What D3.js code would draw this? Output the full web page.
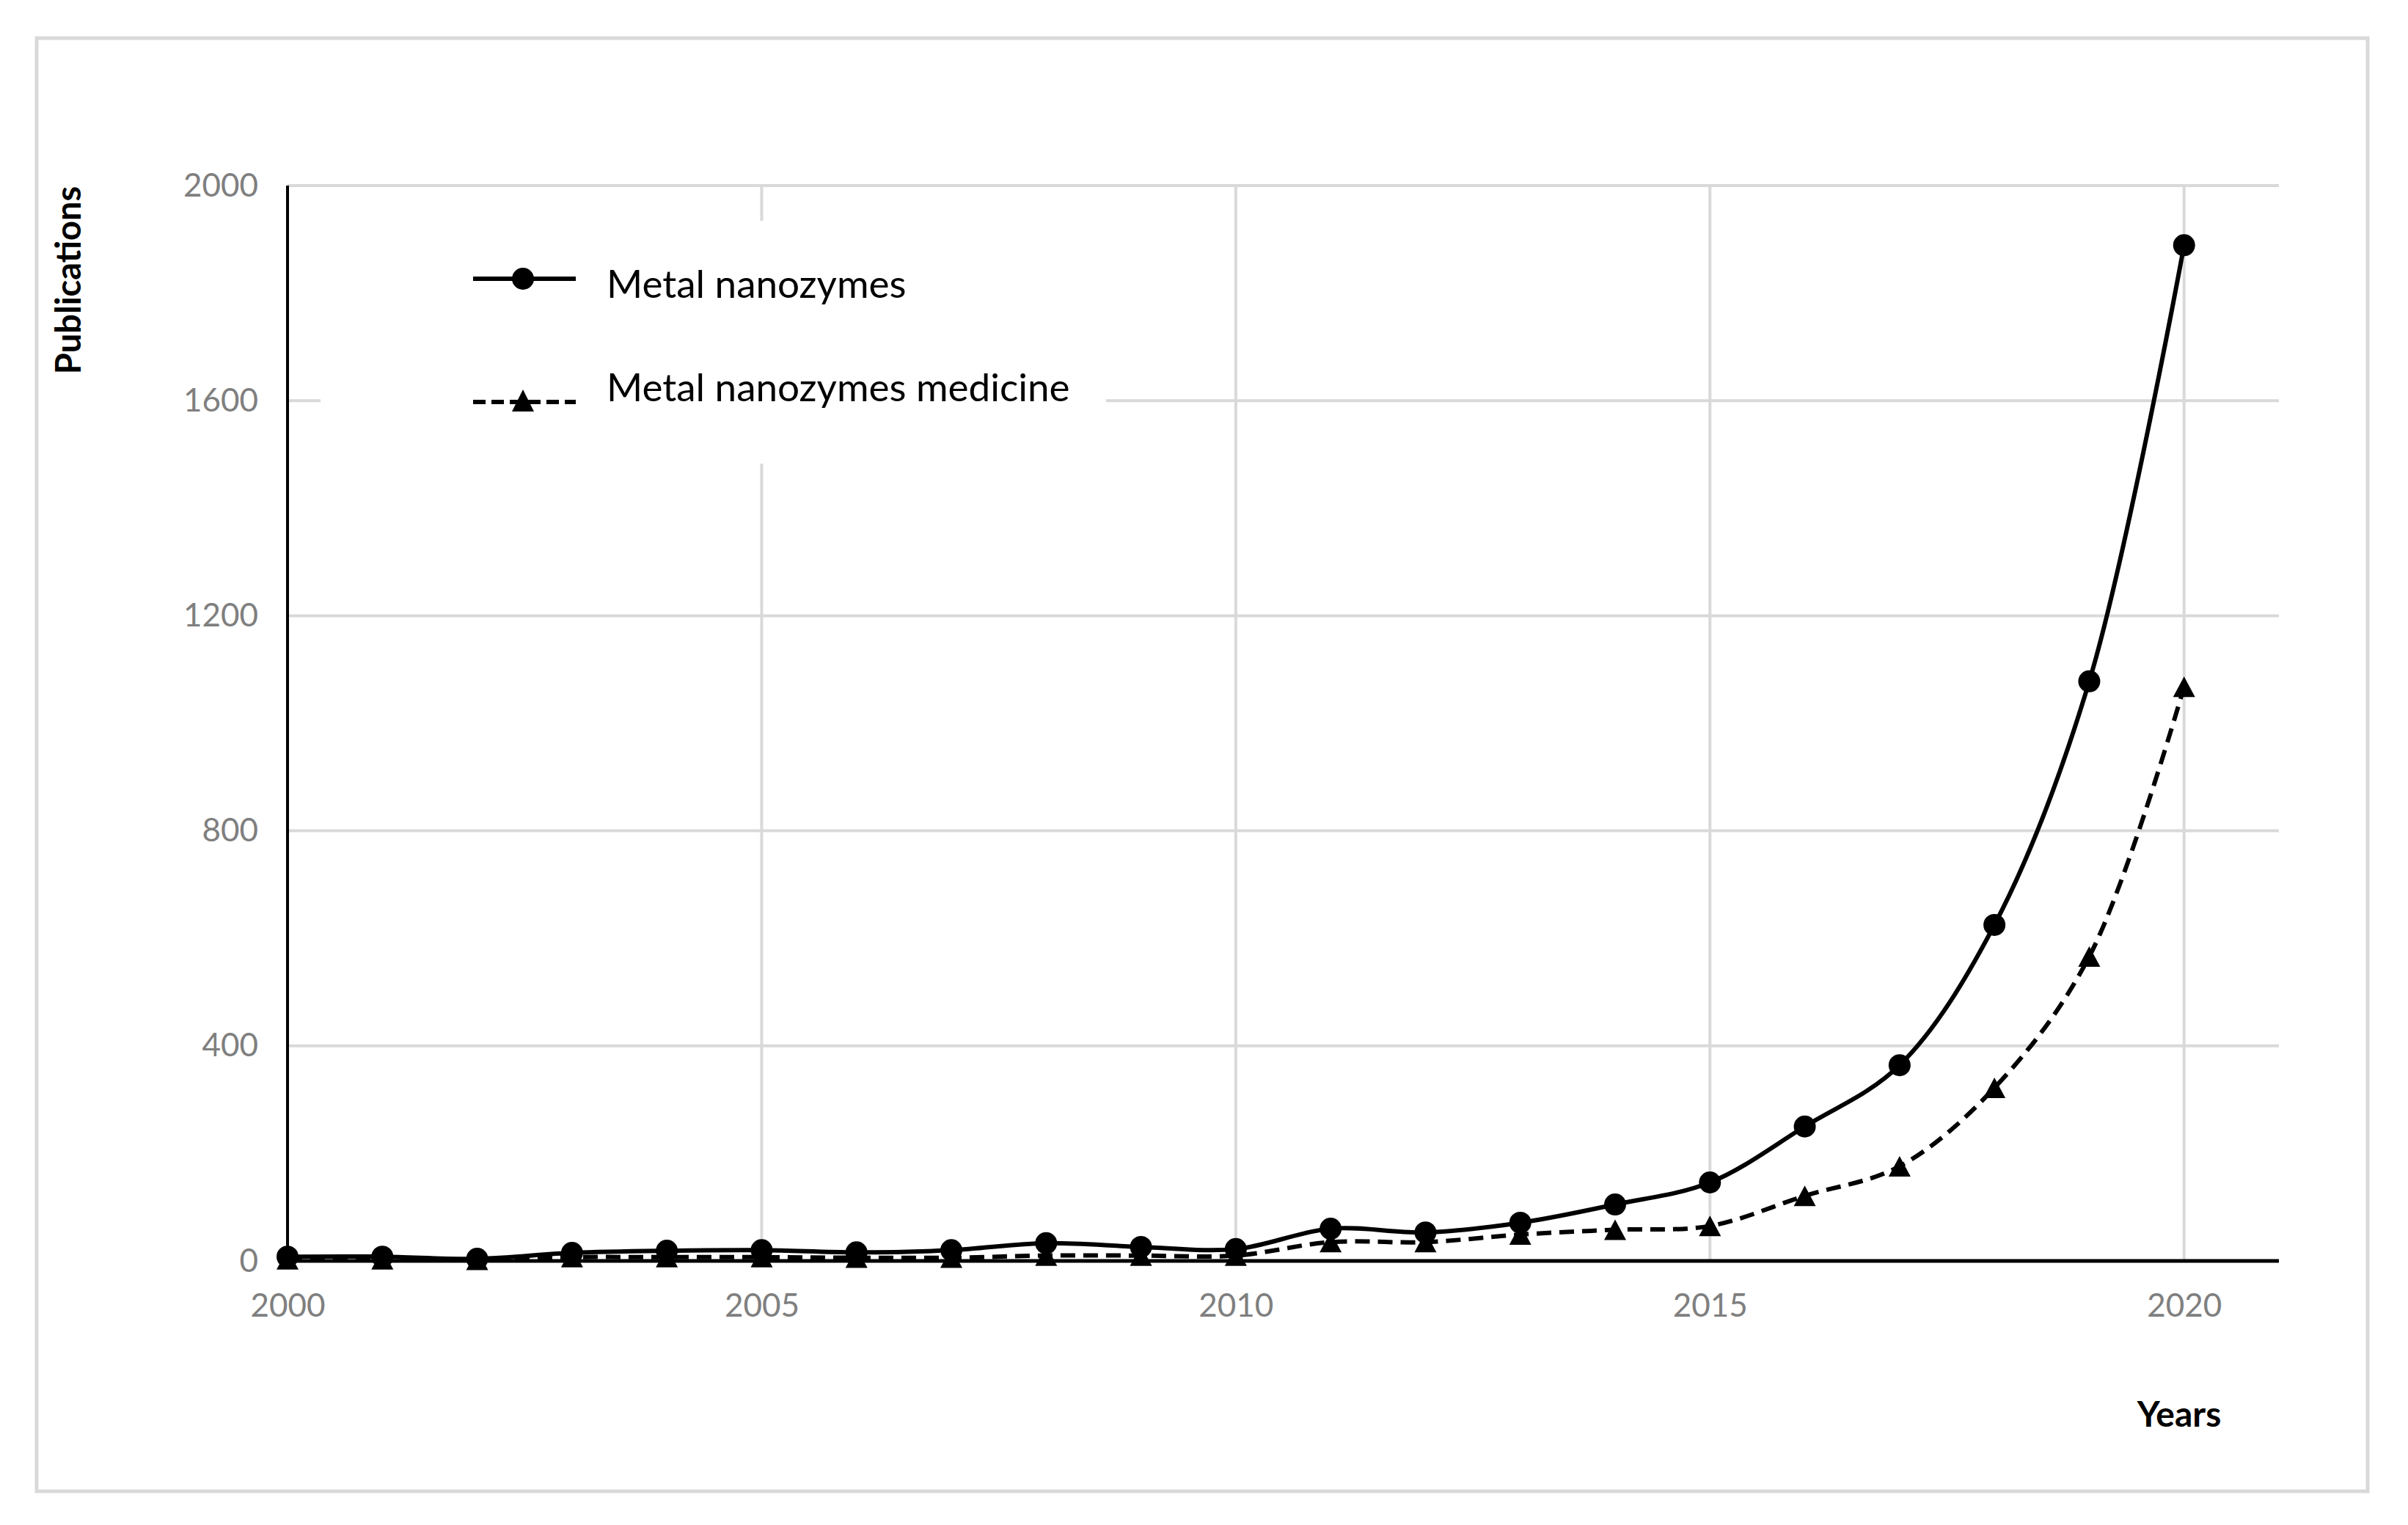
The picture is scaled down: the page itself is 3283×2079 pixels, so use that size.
<!DOCTYPE html>
<html>
<head>
<meta charset="utf-8">
<script src="https://cdn.jsdelivr.net/npm/d3@7"></script>
<style>
  body { margin: 0; background: #fff; }
  svg text { font-family: Lato, "Open Sans", sans-serif; }
</style>
</head>
<body>
<div id="graph"></div>
<script>
// data
var years = [2000, 2001, 2002, 2003, 2004, 2005, 2006, 2007, 2008, 2009, 2010,
             2011, 2012, 2013, 2014, 2015, 2016, 2017, 2018, 2019, 2020];
var metalNanozymes = [8, 8, 4, 15, 19, 20, 16, 20, 33, 26, 22,
                      60, 53, 71, 105, 146, 250, 364, 625, 1078, 1889];
var metalMedicine = [3, 3, 2, 7, 7, 7, 6, 6, 10, 10, 10,
                     35, 35, 49, 58, 65, 121, 176, 322, 566, 1068];
var seriesNames = ["Metal nanozymes", "Metal nanozymes medicine"];
var yTicks = [0, 400, 800, 1200, 1600, 2000];
var xTicks = [2000, 2005, 2010, 2015, 2020];
var xGridYears = [2005, 2010, 2015, 2020];

var svgWidth = 3283;
var svgHeight = 2079;

var plot = {left: 392, right: 3107, top: 253, bottom: 1719};
var gridColor = "#d9d9d9";
var tickColor = "#7f7f7f";

var $svg = d3.select("#graph")
    .append("svg")
    .attr("width", svgWidth)
    .attr("height", svgHeight);

// outer frame
$svg.append("rect")
    .attr("x", 50).attr("y", 52)
    .attr("width", 3178).attr("height", 1981)
    .attr("fill", "#fff")
    .attr("stroke", gridColor)
    .attr("stroke-width", 5);

var x = d3.scaleLinear().domain([2000, 2021]).range([plot.left, plot.right]);
var y = d3.scaleLinear().domain([0, 2000]).range([plot.bottom, plot.top]);

// gridlines
$svg.append("g")
    .selectAll("line.hgrid")
    .data(yTicks.filter(d => d > 0))
    .join("line")
    .attr("x1", plot.left).attr("x2", plot.right)
    .attr("y1", d => y(d)).attr("y2", d => y(d))
    .attr("stroke", gridColor)
    .attr("stroke-width", 4);

$svg.append("g")
    .selectAll("line.vgrid")
    .data(xGridYears)
    .join("line")
    .attr("x1", d => x(d)).attr("x2", d => x(d))
    .attr("y1", plot.top).attr("y2", plot.bottom)
    .attr("stroke", gridColor)
    .attr("stroke-width", 4);

// axes
var yAxis = d3.axisLeft(y).tickValues(yTicks).tickSize(0).tickPadding(40).tickFormat(d3.format("d"));
var gy = $svg.append("g")
    .attr("transform", `translate(${plot.left},0)`)
    .call(yAxis);
gy.select(".domain").remove();
gy.selectAll("text")
    .attr("fill", tickColor)
    .style("font-size", "44px");

var xAxis = d3.axisBottom(x).tickValues(xTicks).tickSize(0).tickPadding(45).tickFormat(d3.format("d"));
var gx = $svg.append("g")
    .attr("transform", `translate(0,${plot.bottom})`)
    .call(xAxis);
gx.select(".domain").remove();
gx.selectAll("text")
    .attr("fill", tickColor)
    .style("font-size", "44px");

$svg.append("line")
    .attr("x1", plot.left).attr("x2", plot.left)
    .attr("y1", plot.top).attr("y2", plot.bottom)
    .attr("stroke", "#000").attr("stroke-width", 4);

// axis titles
$svg.append("text")
    .attr("transform", "translate(110,382) rotate(-90)")
    .attr("text-anchor", "middle")
    .attr("font-weight", "bold")
    .style("font-size", "47px")
    .text("Publications");

$svg.append("text")
    .attr("x", 2971).attr("y", 1945)
    .attr("text-anchor", "middle")
    .attr("font-weight", "bold")
    .style("font-size", "48px")
    .text("Years");

// legend box (white, hides the grid)
$svg.append("rect")
    .attr("x", 437).attr("y", 301)
    .attr("width", 1071).attr("height", 331)
    .attr("fill", "#fff");

var line = d3.line()
    .x((d, i) => x(years[i]))
    .y(d => y(d))
    .curve(d3.curveCatmullRom.alpha(0.5));

function triangle(cx, cy, w, h){
    return `M${cx},${cy - h/2} L${cx + w/2},${cy + h/2} L${cx - w/2},${cy + h/2} Z`;
}

// series 1
$svg.append("path")
    .attr("d", line(metalNanozymes))
    .attr("fill", "none")
    .attr("stroke", "#000")
    .attr("stroke-width", 6);

// series 2
$svg.append("path")
    .attr("d", line(metalMedicine))
    .attr("fill", "none")
    .attr("stroke", "#000")
    .attr("stroke-width", 6)
    .attr("stroke-dasharray", "20 11");

$svg.append("g")
    .selectAll("circle")
    .data(metalNanozymes)
    .join("circle")
    .attr("cx", (d, i) => x(years[i]))
    .attr("cy", d => y(d))
    .attr("r", 15)
    .attr("fill", "#000");

$svg.append("g")
    .selectAll("path")
    .data(metalMedicine)
    .join("path")
    .attr("d", (d, i) => triangle(x(years[i]), y(d), 30, 28))
    .attr("fill", "#000");

// legend entries
$svg.append("line")
    .attr("x1", 645).attr("x2", 785)
    .attr("y1", 380).attr("y2", 380)
    .attr("stroke", "#000").attr("stroke-width", 6);
$svg.append("circle")
    .attr("cx", 713).attr("cy", 380).attr("r", 15)
    .attr("fill", "#000");
$svg.append("text")
    .attr("x", 827).attr("y", 406)
    .style("font-size", "53px")
    .text(seriesNames[0]);

$svg.append("line")
    .attr("x1", 645).attr("x2", 785)
    .attr("y1", 548).attr("y2", 548)
    .attr("stroke", "#000").attr("stroke-width", 6)
    .attr("stroke-dasharray", "17 8");
$svg.append("path")
    .attr("d", triangle(713, 546, 30, 30))
    .attr("fill", "#000");
$svg.append("text")
    .attr("x", 827).attr("y", 547)
    .style("font-size", "53px")
    .text(seriesNames[1]);

$svg.append("line")
    .attr("x1", plot.left - 2).attr("x2", plot.right)
    .attr("y1", plot.bottom).attr("y2", plot.bottom)
    .attr("stroke", "#000").attr("stroke-width", 5);
</script>
</body>
</html>
